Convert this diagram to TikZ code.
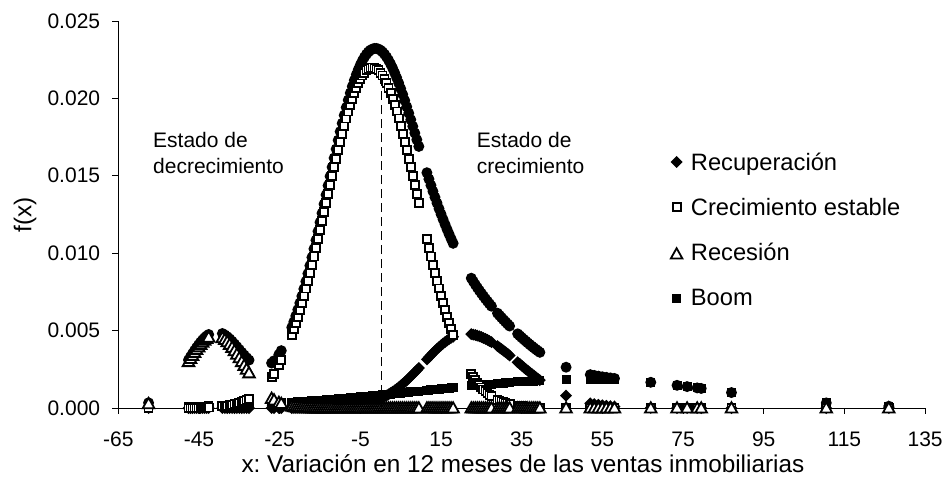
\documentclass[tikz,border=0pt]{standalone}
\usepackage{fontspec}
\setmainfont{Liberation Sans}
\frenchspacing
\tikzset{
  declare function={
    fstab(\t)=22*exp(-min(20,((\t+2)/16.12)^2));
    frec(\t)=4.7*exp(-min(20,((\t+41)/9.85)^2));
    frecu(\t)=4.8*exp(-min(20,((\t-21)/ifthenelse(\t<21,14.6,18.7))^2));
    fboom(\t)=1.85*exp(-min(20,((\t-52)/ifthenelse(\t<52,58.5,44.6))^2));
    fmix(\t)=fstab(\t)+frec(\t)+frecu(\t)+fboom(\t);
  },
  axisline/.style={line width=0.9pt},
  ticklabel/.style={font=\fontsize{21}{25}\selectfont, inner sep=0pt},
  titlelabel/.style={font=\fontsize{24.3}{28}\selectfont, inner sep=0pt},
  chartlabel/.style={font=\fontsize{21}{25}\selectfont, inner sep=0pt, anchor=base west},
  legendlabel/.style={font=\fontsize{23.7}{28}\selectfont, inner sep=0pt, anchor=base west},
  mkmix/.style={fill=black},
  mkfill/.style={fill=black},
  mkopen/.style={draw=black, fill=white, line width=1.8pt},
}
% sample points of the variable
\def\xlist{-57.5,-47.6,-47.1,...,-42.6,-39.2,-38.6,...,-32.6,-27,-26.4,-25.2,-24.6,
  -22,-21.5,...,9.5,11.5,12,...,18,22.5,23,...,27.5,29,29.5,...,32,34,34.5,...,39.5,
  46,52,53,...,58,67,73.5,76,78.5,79.5,87,110.5,126}
\begin{document}
\begin{tikzpicture}[x=4.034pt, y=15.48pt]
  \useasboundingbox (-94.33,-4.78) rectangle (140.18,26.36);
  % axes
  \draw[axisline] (-65,25) -- (-65,0) -- (135,0);
  \foreach \v/\lab in {0/0.000,5/0.005,10/0.010,15/0.015,20/0.020,25/0.025} {
    \draw[axisline] (-65,\v) -- ++(-6pt,0pt);
    \path (-65,\v) ++(-18pt,-7pt) node[ticklabel, anchor=base east] (yt\v) {\lab};
  }
  \foreach \v in {-65,-45,...,135} {
    \draw[axisline] (\v,0) -- ++(0pt,-6pt);
    \path (\v,0) ++(0pt,-38.5pt) node[ticklabel, anchor=base] (xt\v) {\v};
  }
  \node[titlelabel, rotate=90] (ylab) at (-88.13,12.47) {f(x)};
  \node[titlelabel, anchor=base] (xlab) at (35.3,-4.15)
    {x: Variación en 12 meses de las ventas inmobiliarias};
  % series
  \foreach \x in \xlist {
    \fill[mkmix] (\x,{fmix(\x)}) circle (5.5pt);
  }
  \foreach \x in \xlist {
    \fill[mkfill] (\x,{fboom(\x)}) ++(-4.5pt,-4.5pt) rectangle ++(9pt,9pt);
  }
  \foreach \x in \xlist {
    \fill[mkfill] (\x,{frecu(\x)}) ++(0pt,6pt) -- ++(6pt,-6pt) -- ++(-6pt,-6pt)
      -- ++(-6pt,6pt) -- cycle;
  }
  \foreach \x in \xlist {
    \filldraw[mkopen] (\x,{fstab(\x)}) ++(-4pt,-4pt) rectangle ++(8pt,8pt);
  }
  \foreach \x in \xlist {
    \filldraw[mkopen] (\x,{frec(\x)}) ++(0pt,5.8pt) -- ++(-5.8pt,-10.3pt) -- ++(11.6pt,0pt) -- cycle;
  }
  \draw[line width=1.2pt, dash pattern=on 9pt off 5pt] (0.3,0) -- (0.3,21.3);
  % state labels
  \node[chartlabel] (dec1) at (-56.4,16.86) {Estado de};
  \node[chartlabel] (dec2) at (-56.4,15.18) {decrecimiento};
  \node[chartlabel] (cre1) at (23.85,16.86) {Estado de};
  \node[chartlabel] (cre2) at (23.85,15.18) {crecimiento};
  % legend
  \fill[mkfill] (73.4,15.9) ++(0pt,6pt) -- ++(6pt,-6pt) -- ++(-6pt,-6pt)
    -- ++(-6pt,6pt) -- cycle;
  \node[legendlabel] (lg1) at (76.9,15.37) {Recuperación};
  \filldraw[mkopen] (73.4,13.0) ++(-4pt,-4pt) rectangle ++(8pt,8pt);
  \node[legendlabel] (lg2) at (76.9,12.47) {Crecimiento estable};
  \filldraw[mkopen] (73.4,9.95) ++(0pt,5.8pt) -- ++(-5.8pt,-10.3pt) -- ++(11.6pt,0pt) -- cycle;
  \node[legendlabel] (lg3) at (76.9,9.52) {Recesión};
  \fill[mkfill] (73.4,7.1) ++(-4.5pt,-4.5pt) rectangle ++(9pt,9pt);
  \node[legendlabel] (lg4) at (76.9,6.65) {Boom};
\end{tikzpicture}
\end{document}
